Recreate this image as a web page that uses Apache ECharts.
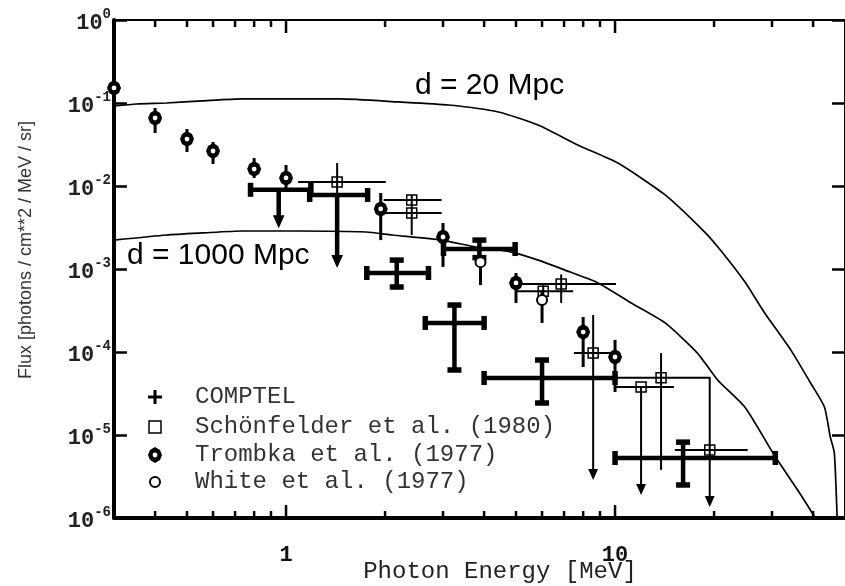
<!doctype html>
<html lang="en">
<head>
  <meta charset="UTF-8">
  <title>Flux vs Photon Energy</title>
  <script src="https://cdn.jsdelivr.net/npm/echarts@6.0.0/dist/echarts.min.js"></script>
  <style>
    * {
      margin: 0;
      padding: 0;
      box-sizing: border-box;
    }

    body {
      background: #fff;
    }

    #chart {
      width: 845px;
      height: 586px;
    }
  </style>
</head>
<body>
<div id="chart"></div>
<script>
  // model curves, [MeV, flux]
  const curve20 = [[0.3, 0.092], [0.351, 0.0973], [0.433, 0.100], [0.557, 0.106], [0.736, 0.112], [1.45, 0.112],
    [2.2, 0.103], [3.12, 0.0946], [4.42, 0.078], [5.84, 0.0543], [7.73, 0.031], [10.2, 0.0189], [14.2, 0.0078],
    [18.7, 0.0028], [20.9, 0.00169], [24.8, 0.0007], [28.5, 0.000295], [34.2, 0.000106], [39.3, 4.23e-5],
    [43.3, 2.17e-5], [45.1, 9.5e-6], [46.4, 6.1e-6], [47.4, 8.2e-7]]
  const curve1000 = [[0.3, 0.00223], [0.433, 0.00257], [0.557, 0.00272], [0.736, 0.00287], [1.095, 0.00287],
    [1.75, 0.00279], [2.10, 0.00257], [2.97, 0.00223], [3.77, 0.00184], [4.84, 0.0016], [5.84, 0.00128],
    [7.05, 0.00097], [8.88, 0.00068], [11.2, 0.00039], [14.2, 0.000224], [17.8, 9.7e-5], [20.5, 4.6e-5],
    [24.8, 2.17e-5], [30.5, 5.7e-6], [35.9, 2.17e-6], [40.6, 1.0e-6], [42.7, 7e-7]]

  // [x, xLow, xHigh, y, yLow, yHigh, upperLimit]  (upper limit: yLow = arrow tip)
  const comptel = [
    [0.95, 0.78, 1.19, 0.009, 0.0031, 0.009, 1],
    [1.43, 1.18, 1.77, 0.0078, 0.00103, 0.0078, 1],
    [2.17, 1.76, 2.71, 8.95e-4, 6.07e-4, 1.28e-3, 0],
    [3.87, 3.01, 4.97, 1.74e-3, 1.37e-3, 2.23e-3, 0],
    [3.25, 2.65, 4.0, 2.24e-4, 6.07e-5, 3.68e-4, 0],
    [6.0, 4.0, 10.0, 4.86e-5, 2.43e-5, 8.0e-5, 0],
    [16.1, 10.0, 30.7, 5.28e-6, 2.5e-6, 8.2e-6, 0]
  ]
  const schoenfelder = [
    [1.43, 1.087, 2.01, 0.0112, 0.0068, 0.0189, 0],
    [2.41, 1.98, 2.97, 6.8e-3, 5.5e-3, 7.8e-3, 0],
    [2.41, 1.98, 2.97, 4.73e-3, 2.57e-3, 5.5e-3, 0],
    [6.86, 4.97, 10.07, 6.6e-4, 3.9e-4, 8.6e-4, 0],
    [6.05, 5.0, 7.46, 5.4e-4, 4.5e-4, 6.5e-4, 0],
    [8.58, 7.5, 10.07, 9.7e-5, 2.87e-6, 2.79e-4, 1],
    [12.0, 10.0, 15.1, 3.79e-5, 1.89e-6, 3.79e-5, 1],
    [13.8, 10.06, 19.5, 4.9e-5, 3.8e-6, 9.7e-5, 0],
    [19.4, 15.2, 25.3, 6.6e-6, 1.36e-6, 4.9e-5, 1]
  ]
  // [x, y, yLow, yHigh]
  const trombka = [
    [0.3, 0.152, 0.13, 0.175],
    [0.4, 0.066, 0.0435, 0.087],
    [0.5, 0.0368, 0.0257, 0.0486],
    [0.6, 0.0264, 0.0184, 0.0339],
    [0.8, 0.016, 0.0125, 0.0217],
    [1.0, 0.0125, 0.009, 0.0179],
    [1.94, 0.0053, 0.00223, 0.00824],
    [3.0, 0.00243, 0.00106, 0.00358],
    [5.0, 6.8e-4, 3.89e-4, 8.95e-4],
    [8.0, 1.74e-4, 6.6e-5, 2.64e-4],
    [10.0, 8.7e-5, 3.3e-5, 1.4e-4]
  ]
  const white = [
    [3.9, 1.21e-3, 6.4e-4, 1.5e-3],
    [6.0, 4.23e-4, 2.24e-4, 5.6e-4]
  ]

  const xMajorTicks = [1, 10]
  const xMinorTicks = [0.4, 0.5, 0.6, 0.7, 0.8, 0.9, 2, 3, 4, 5, 6, 7, 8, 9, 20, 30, 40]
  const xLabels = ['1', '10']
  const legendNames = ['COMPTEL', 'Schönfelder et al. (1980)', 'Trombka et al. (1977)', 'White et al. (1977)']
  const curveNames = ['d = 20 Mpc', 'd = 1000 Mpc']

  const X_MIN = 0.3, X_MAX = 50, Y_MIN = 1e-6, Y_MAX = 1
  const mono = 'Liberation Mono'

  function seg(x1, y1, x2, y2, w) {
    return {type: 'line', shape: {x1: x1, y1: y1, x2: x2, y2: y2}, style: {stroke: '#000', lineWidth: w}}
  }

  function arrow(x, tipY, size) {
    return {
      type: 'polygon',
      shape: {points: [[x - size * 0.45, tipY - size], [x + size * 0.45, tipY - size], [x, tipY]]},
      style: {fill: '#000'}
    }
  }

  function trombkaMark(x, y) {
    return [
      {type: 'polygon', shape: {points: [[x, y - 8], [x + 5, y - 5], [x + 7, y], [x + 5, y + 5], [x, y + 8], [x - 5, y + 5], [x - 7, y], [x - 5, y - 5]]}, style: {fill: '#000'}},
      {type: 'circle', shape: {cx: x, cy: y, r: 2.4}, style: {fill: '#fff'}}
    ]
  }

  function whiteMark(x, y) {
    return [{type: 'circle', shape: {cx: x, cy: y, r: 5}, style: {fill: '#fff', stroke: '#000', lineWidth: 2}}]
  }

  function squareMark(x, y) {
    return [{type: 'rect', shape: {x: x - 5, y: y - 5, width: 10, height: 10}, style: {fill: 'none', stroke: '#000', lineWidth: 1.5}}]
  }

  function crossRender(lineW, cap, head, mark) {
    return function (params, api) {
      const x = api.value(0), y = api.value(3)
      const c = api.coord([x, y])
      const l = api.coord([api.value(1), y])
      const r = api.coord([api.value(2), y])
      const t = api.coord([x, api.value(5)])
      const b = api.coord([x, api.value(4)])
      const kids = [seg(l[0], c[1], r[0], c[1], lineW)]
      if (cap) {
        kids.push(seg(l[0], c[1] - cap, l[0], c[1] + cap, lineW + 1))
        kids.push(seg(r[0], c[1] - cap, r[0], c[1] + cap, lineW + 1))
      }
      if (api.value(6)) {
        kids.push(seg(c[0], t[1], c[0], b[1] - head + 1, lineW))
        kids.push(arrow(c[0], b[1], head))
      } else {
        kids.push(seg(c[0], t[1], c[0], b[1], lineW))
        if (cap) {
          kids.push(seg(c[0] - cap, t[1], c[0] + cap, t[1], lineW + 1))
          kids.push(seg(c[0] - cap, b[1], c[0] + cap, b[1], lineW + 1))
        }
      }
      if (mark) mark(c[0], c[1]).forEach(function (m) { kids.push(m) })
      return {type: 'group', children: kids}
    }
  }

  function pointRender(mark) {
    return function (params, api) {
      const x = api.value(0)
      const c = api.coord([x, api.value(1)])
      const b = api.coord([x, api.value(2)])
      const t = api.coord([x, api.value(3)])
      const kids = [seg(c[0], t[1], c[0], b[1], 3)].concat(mark(c[0], c[1]))
      return {type: 'group', children: kids}
    }
  }

  function tickRender(len) {
    return function (params, api) {
      const v = api.value(0)
      const b = api.coord([v, Y_MIN])
      const t = api.coord([v, Y_MAX])
      return {
        type: 'group', children: [
          seg(b[0], b[1], b[0], b[1] - len, 2.5),
          seg(t[0], t[1], t[0], t[1] + len, 2.5)
        ]
      }
    }
  }

  function isDecade(v) {
    const e = Math.log10(v)
    return Math.abs(e - Math.round(e)) < 1e-6
  }

  const chart = echarts.init(document.getElementById('chart'))

  const legendY = [397, 427, 455, 482]
  const legendGraphics = [
    seg(148, legendY[0], 162, legendY[0], 3),
    seg(155, legendY[0] - 7, 155, legendY[0] + 7, 3),
    {type: 'rect', shape: {x: 149, y: legendY[1] - 6, width: 12, height: 12}, style: {fill: 'none', stroke: '#000', lineWidth: 1.5}}
  ].concat(trombkaMark(155, legendY[2]), whiteMark(155, legendY[3]))
  legendNames.forEach(function (n, i) {
    legendGraphics.push({
      type: 'text', x: 195, y: legendY[i],
      style: {text: n, font: '24px "' + mono + '"', fill: '#333', verticalAlign: 'middle'}
    })
  })

  const option = {
    animation: false,
    grid: {left: 114, top: 20, right: -3, bottom: 68},
    xAxis: [
      {
        type: 'log', logBase: 10, min: X_MIN, max: X_MAX, position: 'bottom',
        axisLine: {onZero: false, lineStyle: {color: '#000', width: 4}},
        axisTick: {show: false},
        splitLine: {show: false},
        axisLabel: {
          margin: 26, color: '#111', fontFamily: mono, fontSize: 22, fontWeight: 'bold',
          showMinLabel: false, showMaxLabel: false,
          formatter: function (v) {
            if (!isDecade(v)) return ''
            const i = xMajorTicks.indexOf(Math.round(v))
            return i < 0 ? '' : xLabels[i]
          }
        }
      },
      {
        type: 'log', logBase: 10, min: X_MIN, max: X_MAX, position: 'top',
        axisLine: {onZero: false, lineStyle: {color: '#000', width: 2}},
        axisTick: {show: false}, axisLabel: {show: false}, splitLine: {show: false}
      }
    ],
    yAxis: [
      {
        type: 'log', logBase: 10, min: Y_MIN, max: Y_MAX, position: 'left', splitNumber: 6,
        axisLine: {onZero: false, lineStyle: {color: '#000', width: 4}},
        axisTick: {inside: true, length: 13, lineStyle: {color: '#000', width: 2.5}},
        splitLine: {show: false},
        axisLabel: {
          margin: 3,
          formatter: function (v) {
            return '{b|10}{s|' + Math.round(Math.log10(v)) + '}'
          },
          rich: {
            b: {fontFamily: mono, fontSize: 22, fontWeight: 'bold', color: '#222', padding: [7, 0, 0, 0]},
            s: {fontFamily: mono, fontSize: 14, fontWeight: 'bold', color: '#222', padding: [0, 0, 11, 0]}
          }
        }
      },
      {
        type: 'log', logBase: 10, min: Y_MIN, max: Y_MAX, position: 'right', splitNumber: 6,
        axisLine: {onZero: false, lineStyle: {color: '#000', width: 2}},
        axisTick: {inside: true, length: 13, lineStyle: {color: '#000', width: 2.5}},
        axisLabel: {show: false}, splitLine: {show: false}
      }
    ],
    graphic: [
      {
        type: 'text', x: 26, y: 250, rotation: Math.PI / 2,
        style: {text: 'Flux [photons / cm**2 / MeV / sr]', font: '18px "Liberation Sans"', fill: '#333', align: 'center', verticalAlign: 'middle'}
      },
      {
        type: 'text', x: 500, y: 572,
        style: {text: 'Photon Energy [MeV]', font: '24px "' + mono + '"', fill: '#222', align: 'center', verticalAlign: 'middle'}
      },
      {
        type: 'text', x: 415, y: 86,
        style: {text: curveNames[0], font: '30px "Liberation Sans"', fill: '#000', verticalAlign: 'middle'}
      },
      {
        type: 'text', x: 127, y: 256,
        style: {text: curveNames[1], font: '30px "Liberation Sans"', fill: '#000', verticalAlign: 'middle'}
      }
    ].concat(legendGraphics),
    series: [
      {
        name: curveNames[0], type: 'line', data: curve20, showSymbol: false, clip: true, smooth: 0.2,
        lineStyle: {color: '#000', width: 1.7}, z: 2
      },
      {
        name: curveNames[1], type: 'line', data: curve1000, showSymbol: false, clip: true, smooth: 0.2,
        lineStyle: {color: '#000', width: 1.7}, z: 2
      },
      {
        type: 'custom', data: xMajorTicks.map(function (v) { return [v, Y_MIN] }),
        renderItem: tickRender(13), z: 3
      },
      {
        type: 'custom', data: xMinorTicks.map(function (v) { return [v, Y_MIN] }),
        renderItem: tickRender(7), z: 3
      },
      {
        name: legendNames[1], type: 'custom', data: schoenfelder, encode: {x: 0, y: 3},
        renderItem: crossRender(2, 0, 11, squareMark), z: 4
      },
      {
        name: legendNames[0], type: 'custom', data: comptel, encode: {x: 0, y: 3},
        renderItem: crossRender(4.5, 7, 13, null), z: 5
      },
      {
        name: legendNames[2], type: 'custom', data: trombka, encode: {x: 0, y: 1},
        renderItem: pointRender(trombkaMark), z: 6
      },
      {
        name: legendNames[3], type: 'custom', data: white, encode: {x: 0, y: 1},
        renderItem: pointRender(whiteMark), z: 6
      }
    ]
  }
  chart.setOption(option)
</script>
</body>
</html>
